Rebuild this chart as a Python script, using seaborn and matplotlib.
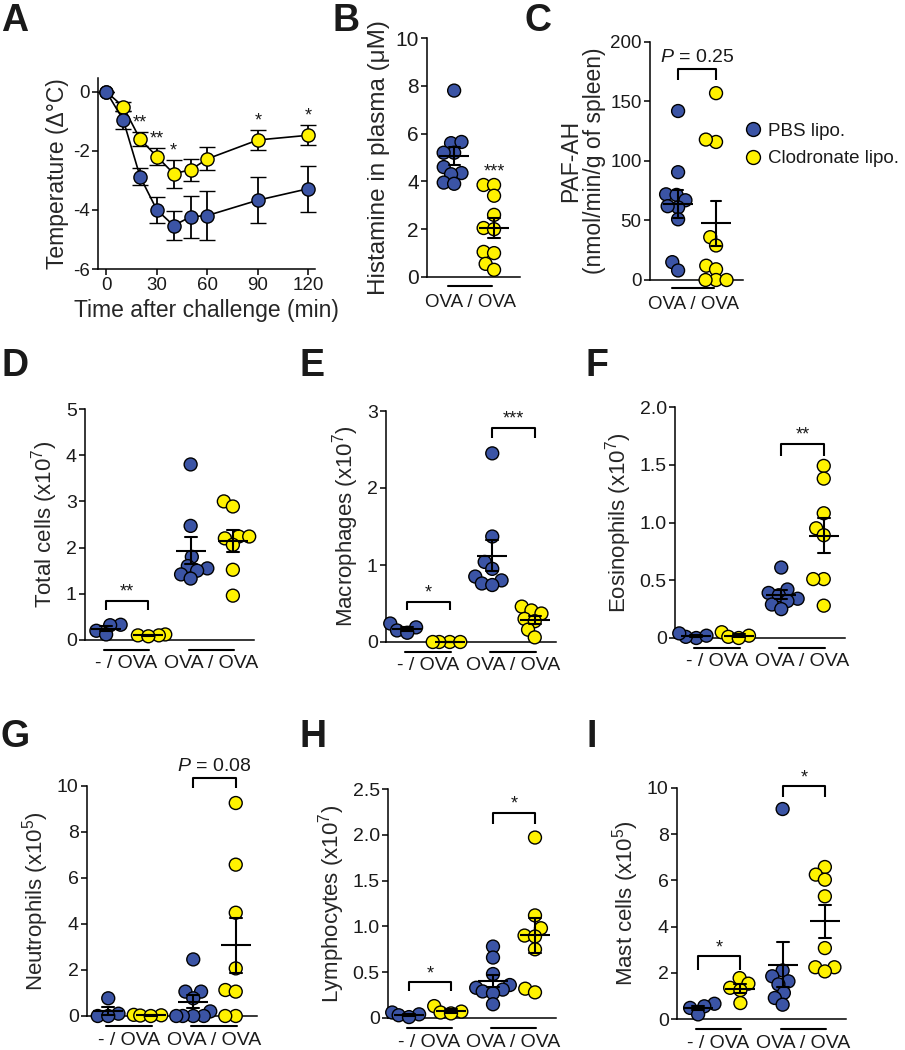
import warnings
import numpy as np
import pandas as pd
import matplotlib
matplotlib.use("Agg")
import matplotlib.pyplot as plt
import matplotlib.transforms as mtransforms
from matplotlib.lines import Line2D
from matplotlib.markers import MarkerStyle
import seaborn as sns

warnings.filterwarnings("ignore")

sns.set_style("ticks")
plt.rcParams["font.family"] = ["Liberation Sans", "DejaVu Sans"]
plt.rcParams["mathtext.fontset"] = "custom"
plt.rcParams["mathtext.rm"] = "Liberation Sans"
plt.rcParams["mathtext.it"] = "Liberation Sans:italic"
plt.rcParams["axes.unicode_minus"] = False
plt.rcParams["axes.linewidth"] = 1.1
plt.rcParams["axes.edgecolor"] = "black"
plt.rcParams["text.color"] = "#1a1a1a"
plt.rcParams["xtick.color"] = "black"
plt.rcParams["ytick.color"] = "black"
plt.rcParams["xtick.labelcolor"] = "#1a1a1a"
plt.rcParams["ytick.labelcolor"] = "#1a1a1a"

BLUE = "#3b54a5"
YELLOW = "#fff200"

# ---- A: body temperature after challenge
time_min = [0, 10, 20, 30, 40, 50, 60, 90, 120]
temp_pbs = [0.0, -0.95, -2.87, -4.0, -4.53, -4.23, -4.19, -3.67, -3.28]
temp_pbs_sem = [0.0, 0.3, 0.28, 0.43, 0.5, 0.71, 0.82, 0.78, 0.78]
temp_clo = [0.0, -0.5, -1.6, -2.19, -2.77, -2.64, -2.27, -1.63, -1.47]
temp_clo_sem = [0.0, 0.15, 0.24, 0.29, 0.47, 0.37, 0.39, 0.35, 0.34]
temp_stars = ["", "", "**", "**", "*", "", "", "*", "*"]

# ---- B: plasma histamine (uM)
hist_pbs = [7.8, 5.6, 5.65, 5.2, 5.2, 4.6, 4.35, 4.3, 3.95, 3.9]
hist_clo = [3.85, 3.85, 3.4, 2.6, 2.05, 2.0, 1.05, 1.0, 0.55, 0.3]

# ---- C: PAF-AH activity
pafah_pbs = [142, 90.6, 72, 71.5, 67, 61, 62, 51, 15, 8]
pafah_clo = [157, 116, 118, 36, 29, 12, 9, 0, 0, 0]

# ---- D-I: BAL cell counts, groups: -/OVA and OVA/OVA
total_pbs_ctrl = [0.33, 0.32, 0.2, 0.12]
total_clo_ctrl = [0.12, 0.1, 0.1, 0.08]
total_pbs_ova = [3.8, 2.47, 1.8, 1.6, 1.55, 1.5, 1.42, 1.33]
total_clo_ova = [3.0, 2.89, 2.24, 2.24, 2.2, 2.06, 1.52, 0.96]

macro_pbs_ctrl = [0.24, 0.19, 0.15, 0.12]
macro_clo_ctrl = [0.0, 0.0, 0.0, 0.0]
macro_pbs_ova = [2.45, 1.37, 1.04, 0.95, 0.85, 0.8, 0.76, 0.74]
macro_clo_ova = [0.46, 0.41, 0.37, 0.3, 0.27, 0.16, 0.06]

eos_pbs_ctrl = [0.0, 0.01, 0.02, 0.04]
eos_clo_ctrl = [0.05, 0.02, 0.01, 0.0]
eos_pbs_ova = [0.61, 0.42, 0.39, 0.37, 0.34, 0.32, 0.29, 0.25]
eos_clo_ova = [1.49, 1.38, 1.08, 0.95, 0.89, 0.51, 0.51, 0.28]

neut_pbs_ctrl = [0.77, 0.1, 0.0, 0.0]
neut_clo_ctrl = [0.05, 0.03, 0.02, 0.0]
neut_pbs_ova = [2.46, 1.06, 1.06, 0.77, 0.2, 0.0, 0.0, 0.0, 0.0]
neut_clo_ova = [9.26, 6.58, 4.49, 2.07, 1.13, 1.06, 0.0, 0.0]

lymph_pbs_ctrl = [0.06, 0.04, 0.03, 0.01]
lymph_clo_ctrl = [0.13, 0.07, 0.06, 0.05]
lymph_pbs_ova = [0.78, 0.66, 0.48, 0.36, 0.33, 0.31, 0.29, 0.27, 0.15]
lymph_clo_ova = [1.97, 1.12, 0.98, 0.9, 0.89, 0.75, 0.32, 0.28]

mast_pbs_ctrl = [0.66, 0.55, 0.48, 0.2]
mast_clo_ctrl = [1.77, 1.53, 1.35, 1.25, 0.69]
mast_pbs_ova = [9.09, 2.1, 1.85, 1.63, 1.5, 1.13, 0.91, 0.62]
mast_clo_ova = [6.58, 6.25, 6.03, 5.31, 3.07, 2.24, 2.24, 2.06]

group_labels = ["- / OVA", "OVA / OVA"]
legend_labels = ["PBS lipo.", "Clodronate lipo."]

W, H = 905, 1050
fig = plt.figure(figsize=(W / 100, H / 100), dpi=100)

# swarm is laid out for small dots, which are then drawn larger so they overlap
DOT = MarkerStyle("o", transform=mtransforms.Affine2D().scale(1.5))


def px_axes(left, top, right, bottom):
    return fig.add_axes([left / W, 1 - bottom / H, (right - left) / W, (bottom - top) / H])


def style(ax, tick_size):
    sns.despine(ax=ax)
    ax.tick_params(axis="both", direction="out", length=4, width=1.1, labelsize=tick_size, pad=2)


def dot_panel(ax, groups, tick_size):
    # groups: list of (values, color); one x slot per group
    slots = [f"s{i}" for i in range(len(groups))]
    rows = []
    for slot, (vals, col) in zip(slots, groups):
        for v in vals:
            rows.append({"slot": slot, "val": v, "col": col})
    df = pd.DataFrame(rows)
    sns.swarmplot(data=df, x="slot", y="val", order=slots, hue="col",
                  palette={BLUE: BLUE, YELLOW: YELLOW}, size=6.2, marker=DOT,
                  edgecolor="black", linewidth=1, legend=False, ax=ax)
    for coll in ax.collections:
        coll.set_clip_on(False)
    sns.pointplot(data=df, x="slot", y="val", order=slots, errorbar="se",
                  color="black", marker="_", markersize=21, markeredgewidth=1.5,
                  linestyle="none", capsize=0.28, err_kws={"linewidth": 1.5},
                  ax=ax)
    for ln in ax.lines:
        ln.set_clip_on(False)
        ln.set_zorder(5)
    ax.set_xticks([])
    ax.set_xlabel("")
    style(ax, tick_size)


def bracket(ax, x0, x1, y_lo, y_hi, text, size=13, dy=0.0):
    ax.plot([x0, x0, x1, x1], [y_lo, y_hi, y_hi, y_lo], color="black", lw=1.5,
            clip_on=False, solid_capstyle="butt")
    ax.text((x0 + x1) / 2, y_hi + dy, text, ha="center", va="bottom", fontsize=size,
            clip_on=False)


def group_underline(ax, pairs, labels, line_off, base_off, size):
    trans_line = mtransforms.offset_copy(ax.get_xaxis_transform(), fig=fig, y=-line_off, units="dots")
    trans_text = mtransforms.offset_copy(ax.get_xaxis_transform(), fig=fig, y=-base_off, units="dots")
    for (x0, x1), lab in zip(pairs, labels):
        ax.plot([x0, x1], [0, 0], color="black", lw=1.5, transform=trans_line, clip_on=False)
        ax.text((x0 + x1) / 2, 0, lab, ha="center", va="baseline", fontsize=size,
                transform=trans_text)


# ---------------- A
axA = px_axes(98, 78, 315, 269)
for vals, sem, col in [(temp_clo, temp_clo_sem, YELLOW), (temp_pbs, temp_pbs_sem, BLUE)]:
    axA.errorbar(time_min, vals, yerr=sem, fmt="-o", color="black", lw=1.2,
                 markerfacecolor=col, markeredgecolor="black", markeredgewidth=1,
                 markersize=9.5, capsize=6, elinewidth=1.3, capthick=1.3, clip_on=False)
for t, v, s, st in zip(time_min, temp_clo, temp_clo_sem, temp_stars):
    if st:
        axA.text(t, v + s + 0.02, st, ha="center", va="bottom", fontsize=13)
axA.set_xlim(-5, 124)
axA.set_ylim(-6, 0.47)
axA.set_xticks([0, 30, 60, 90, 120])
axA.set_yticks([0, -2, -4, -6])
axA.set_xlabel("Time after challenge (min)", fontsize=16.5, labelpad=3)
axA.set_ylabel("Temperature (\u0394\u00b0C)", fontsize=16.5, labelpad=3)
style(axA, 13.5)

# ---------------- B
axB = px_axes(427, 38, 520, 277)
dot_panel(axB, [(hist_pbs, BLUE), (hist_clo, YELLOW)], 15)
axB.set_xlim(-0.68, 1.65)
axB.set_ylim(0, 10)
axB.set_yticks([0, 2, 4, 6, 8, 10])
axB.set_ylabel("Histamine in plasma (\u03bcM)", fontsize=17.5, labelpad=4)
axB.text(1, 4.05, "***", ha="center", va="bottom", fontsize=13)
group_underline(axB, [(-0.15, 0.95)], ["OVA / OVA"], 9, 30, 13.5)

# ---------------- C
axC = px_axes(650, 42, 743, 280)
dot_panel(axC, [(pafah_pbs, BLUE), (pafah_clo, YELLOW)], 13.5)
axC.set_xlim(-0.74, 1.71)
axC.set_ylim(0, 200)
axC.set_yticks([0, 50, 100, 150, 200])
axC.set_ylabel("PAF-AH\n(nmol/min/g of spleen)", fontsize=16.5, labelpad=3, linespacing=1.05)
bracket(axC, 0, 1, 168, 177, "$P$ = 0.25", size=14, dy=3)
group_underline(axC, [(-0.15, 0.95)], ["OVA / OVA"], 8, 29, 13.5)
handles = [Line2D([], [], marker="o", ls="none", markerfacecolor=c, markeredgecolor="black",
                  markersize=10) for c in (BLUE, YELLOW)]
fig.legend(handles, legend_labels, loc="upper left", bbox_to_anchor=(734 / W, 1 - 115 / H),
           frameon=False, fontsize=13.5, handletextpad=0.2, labelspacing=0.55,
           borderaxespad=0, handlelength=1.2)

# ---------------- D-I
pairs = [(-0.05, 1.02), (1.95, 3.02)]
row2 = [
    ("D", (85, 409, 254, 640), [total_pbs_ctrl, total_clo_ctrl, total_pbs_ova, total_clo_ova],
     5, [0, 1, 2, 3, 4, 5], None, "Total cells (x10$^{7}$)",
     [(0, 1, 0.65, 0.85, "**")]),
    ("E", (386, 411, 556, 642), [macro_pbs_ctrl, macro_clo_ctrl, macro_pbs_ova, macro_clo_ova],
     3, [0, 1, 2, 3], None, "Macrophages (x10$^{7}$)",
     [(0, 1, 0.42, 0.52, "*"), (2, 3, 2.65, 2.78, "***")]),
    ("F", (675, 407, 845, 638), [eos_pbs_ctrl, eos_clo_ctrl, eos_pbs_ova, eos_clo_ova],
     2, [0, 0.5, 1, 1.5, 2], ["0", "0.5", "1.0", "1.5", "2.0"], "Eosinophils (x10$^{7}$)",
     [(2, 3, 1.58, 1.68, "**")]),
    ("G", (87, 786, 257, 1016), [neut_pbs_ctrl, neut_clo_ctrl, neut_pbs_ova, neut_clo_ova],
     10, [0, 2, 4, 6, 8, 10], None, "Neutrophils (x10$^{5}$)",
     [(2, 3, 9.9, 10.36, "$P$ = 0.08")]),
    ("H", (388, 789, 556, 1018), [lymph_pbs_ctrl, lymph_clo_ctrl, lymph_pbs_ova, lymph_clo_ova],
     2.5, [0, 0.5, 1, 1.5, 2, 2.5], ["0", "0.5", "1.0", "1.5", "2.0", "2.5"], "Lymphocytes (x10$^{7}$)",
     [(0, 1, 0.3, 0.39, "*"), (2, 3, 2.12, 2.24, "*")]),
    ("I", (677, 788, 846, 1019), [mast_pbs_ctrl, mast_clo_ctrl, mast_pbs_ova, mast_clo_ova],
     10, [0, 2, 4, 6, 8, 10], None, "Mast cells (x10$^{5}$)",
     [(0, 1, 2.1, 2.71, "*"), (2, 3, 9.6, 10.07, "*")]),
]
for letter, rect, data, top, ticks, ticklabels, ylabel, brs in row2:
    ax = px_axes(*rect)
    dot_panel(ax, list(zip(data, [BLUE, YELLOW, BLUE, YELLOW])), 14)
    ax.set_xlim(-0.5, 3.5)
    ax.set_ylim(0, top)
    ax.set_yticks(ticks)
    if ticklabels:
        ax.set_yticklabels(ticklabels)
    ax.set_ylabel(ylabel, fontsize=16, labelpad=4)
    for x0, x1, lo, hi, txt in brs:
        if txt.startswith("$P"):
            bracket(ax, x0, x1, lo, hi, txt, size=14, dy=0.1)
        else:
            bracket(ax, x0, x1, lo, hi, txt, size=13)
    bottom_row = rect[3] > 900
    group_underline(ax, pairs, group_labels, 10, 29 if bottom_row else 28, 14)

# panel letters
letters = [("A", 1, 3), ("B", 332, 3), ("C", 525, 3),
           ("D", 1, 348), ("E", 300, 348), ("F", 585, 348),
           ("G", 1, 719), ("H", 300, 719), ("I", 586, 719)]
for lab, x, y in letters:
    fig.text(x / W, 1 - y / H, lab, fontsize=27, fontweight="bold", ha="left", va="top",
             color="#1a1a1a")

fig.savefig("out.png", dpi=100)
